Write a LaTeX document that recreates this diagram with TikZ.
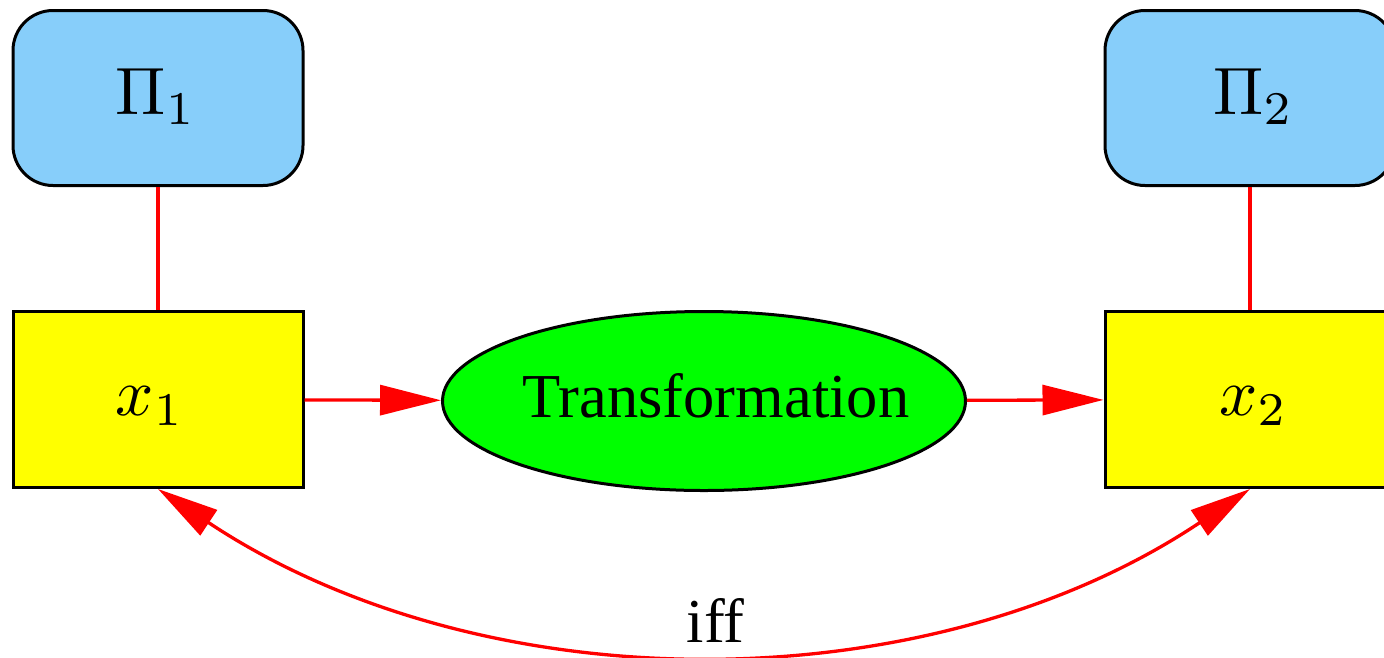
\documentclass[tikz,border=0pt]{standalone}
\usepackage[no-math]{fontspec}
\setmainfont{Liberation Serif}
\usetikzlibrary{arrows.meta,shapes.geometric}
\definecolor{skyb}{HTML}{87CEFA}
\definecolor{yel}{HTML}{FFFF00}
\definecolor{grn}{HTML}{00FF00}
\definecolor{rd}{HTML}{FF0000}
\newcommand{\bigmath}[1]{\scalebox{6.7}{$#1$}}
\begin{document}
\begin{tikzpicture}[x=1pt,y=-1pt,
  txt/.style={font=\fontsize{62.5}{70}\selectfont},
  lab/.style={anchor=base, inner sep=0pt},
  pibox/.style={draw=black, line width=3pt, fill=skyb, rounded corners=40pt,
    minimum width=290pt, minimum height=175pt, inner sep=0pt},
  xbox/.style={draw=black, line width=3pt, fill=yel,
    minimum width=290pt, minimum height=176pt, inner sep=0pt},
  trans/.style={ellipse, draw=black, line width=3pt, fill=grn,
    minimum width=523pt, minimum height=179pt, inner sep=0pt},
  link/.style={draw=rd, line width=3.3pt},
  tip/.tip={Triangle[length=61pt,width=30pt]},
  arr/.style={link, -tip},
  darr/.style={link, tip-tip}
]
\useasboundingbox (0,0) rectangle (1384,657);
\clip (0,0) rectangle (1384,657);
\node[pibox] (p1) at (158,98) {};
\node[pibox] (p2) at (1250,98) {};
\node[xbox] (x1) at (158,399.5) {};
\node[xbox] (x2) at (1250,399.5) {};
\node[trans] (t) at (704,401) {};
\node[lab] (p1t) at ([shift={(-2,16)}]p1.center) {\bigmath{\Pi_1}};
\node[lab] (p2t) at ([shift={(3.5,16)}]p2.center) {\bigmath{\Pi_2}};
\node[lab] (x1t) at ([shift={(-8,16)}]x1.center) {\bigmath{x_1}};
\node[lab] (x2t) at ([shift={(3.5,16)}]x2.center) {\bigmath{x_2}};
\node[lab, txt] (tt) at ([shift={(12,16)}]t.center) {Transformation};
\draw[link] (p1) -- (x1);
\draw[link] (p2) -- (x2);
\draw[arr] (x1) -- (t);
\draw[arr] (t) -- (x2);
\draw[darr] (x1.south) .. controls (483,705) and (927,705) .. node[pos=0.5, lab, txt, xshift=11pt, yshift=9pt] (iff) {iff} (x2.south);
\end{tikzpicture}
\end{document}
